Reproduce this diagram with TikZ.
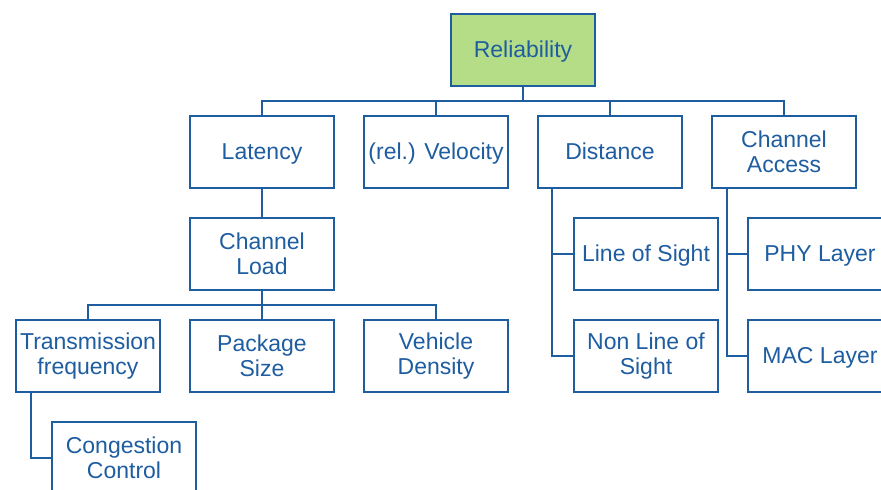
\documentclass[tikz,border=0pt]{standalone}
\usepackage{fontspec}
\setmainfont{Liberation Sans}
\definecolor{tblue}{RGB}{30,93,160}
\definecolor{tgreen}{RGB}{181,221,135}
\begin{document}
\begin{tikzpicture}[x=1pt,y=-1pt,
  box/.style={draw=tblue,line width=2pt,fill=white,minimum width=144pt,minimum height=72pt,inner sep=1pt,
    align=center,text=tblue,font=\fontsize{23}{24.5}\selectfont},
  one/.style={text depth=1pt},
  conn/.style={draw=tblue,line width=2pt}]
\useasboundingbox (0,0) rectangle (881,490);
\clip (0,0) rectangle (881,490);
\node[box,one,fill=tgreen] (rel) at (523,49.5) {Reliability};
\node[box,one] (lat) at (262,152) {Latency};
\node[box,one] (vel) at (436,152) {(rel.) Velocity};
\node[box,one] (dist) at (610,152) {Distance};
\node[box] (ca) at (784,152) {Channel\\Access};
\node[box] (cl) at (262,254) {Channel\\Load};
\node[box] (tf) at (88,356) {Transmission\\frequency};
\node[box] (ps) at (262,356) {Package\\Size};
\node[box] (vd) at (436,356) {Vehicle\\Density};
\node[box] (cc) at (124,458) {Congestion\\Control};
\node[box,one] (los) at (646,254) {Line of Sight};
\node[box] (nlos) at (646,356) {Non Line of\\Sight};
\node[box,one] (phy) at (820,254) {PHY Layer};
\node[box,one] (mac) at (820,356) {MAC Layer};
\coordinate (b1) at (523,101);
\coordinate (b2) at (262,305);
\draw[conn] (rel.south) -- (b1) -| (lat.north);
\draw[conn] (b1) -| (vel.north);
\draw[conn] (b1) -| (dist.north);
\draw[conn] (b1) -| (ca.north);
\draw[conn] (lat.south) -- (cl.north);
\draw[conn] (cl.south) -- (b2) -| (tf.north);
\draw[conn] (b2) -- (ps.north);
\draw[conn] (b2) -| (vd.north);
\draw[conn] ([xshift=-58pt]dist.south) |- (los.west);
\draw[conn] ([xshift=-58pt]dist.south) |- (nlos.west);
\draw[conn] ([xshift=-57.3pt]ca.south) |- (phy.west);
\draw[conn] ([xshift=-57.3pt]ca.south) |- (mac.west);
\draw[conn] ([xshift=-57pt]tf.south) |- (cc.west);
\end{tikzpicture}
\end{document}
